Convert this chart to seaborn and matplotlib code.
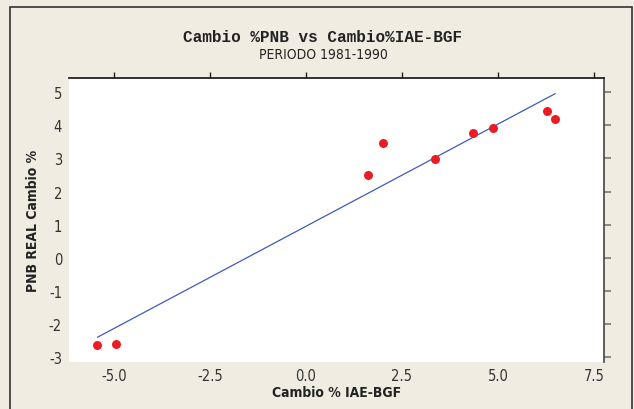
import numpy as np
import pandas as pd
import matplotlib
matplotlib.use("Agg")
import matplotlib.pyplot as plt
import seaborn as sns
from matplotlib.patches import Rectangle

# Data (yearly % changes, 1981-1990)
cambio_iae = [-5.43, -4.95, 1.62, 2.01, 3.36, 4.35, 4.87, 6.27, 6.49]
cambio_pnb = [-2.63, -2.60, 2.50, 3.46, 2.97, 3.78, 3.92, 4.43, 4.20]
x_ticks = [-5.0, -2.5, 0.0, 2.5, 5.0, 7.5]
y_ticks = [-3, -2, -1, 0, 1, 2, 3, 4, 5]

title = "Cambio %PNB vs Cambio%IAE-BGF"
subtitle = "PERIODO 1981-1990"
x_label = "Cambio % IAE-BGF"
y_label = "PNB REAL Cambio %"

df = pd.DataFrame({"iae": cambio_iae, "pnb": cambio_pnb})

sns.set_theme(style="white")
plt.rcParams["font.family"] = ["DejaVu Sans"]

bg = "#F0ECE2"
fig = plt.figure(figsize=(6.34, 4.10), dpi=100, facecolor=bg)
ax = fig.add_axes([69 / 634, 1 - 363 / 410, 535 / 634, 284 / 410])
ax.set_facecolor("white")

sns.regplot(data=df, x="iae", y="pnb", ax=ax, ci=None, truncate=True,
            scatter_kws={"s": 42, "color": "#ED1C24", "alpha": 1, "linewidths": 0, "zorder": 3},
            line_kws={"color": "#3D5BB8", "linewidth": 0.9})

ax.set_xlim(-6.17, 7.76)
ax.set_ylim(-3.15, 5.43)
ax.set_xticks(x_ticks)
ax.set_xticklabels([f"{v:.1f}" for v in x_ticks])
ax.set_yticks(y_ticks)
ax.set_yticklabels([str(v) for v in y_ticks])

for side in ["left", "bottom"]:
    ax.spines[side].set_visible(False)
ax.spines["top"].set_color("#222222")
ax.spines["top"].set_linewidth(1.3)
ax.spines["right"].set_color("#444444")
ax.spines["right"].set_linewidth(1.2)

ax.tick_params(axis="x", bottom=False, top=True, labelbottom=True, labeltop=False,
               direction="out", length=4, width=1, color="#222222",
               labelsize=10.5, labelcolor="#333333", pad=0)
ax.tick_params(axis="y", left=False, right=True, labelleft=True, labelright=False,
               direction="out", length=5, width=1.2, color="#777777",
               labelsize=10.5, labelcolor="#333333", pad=0)
for lab in ax.get_xticklabels() + ax.get_yticklabels():
    lab.set_fontstretch("condensed")

ax.set_xlabel(x_label, fontsize=10, fontweight="bold", color="#222222",
              fontstretch="condensed", labelpad=2)
ax.set_ylabel(y_label, fontsize=10, fontweight="bold", color="#222222",
              fontstretch="condensed", labelpad=6)

fig.text(0.5 * (181 + 464) / 634, 1 - 38 / 410, title, ha="center", va="center",
         fontsize=11.5, fontweight="bold", family=["Liberation Mono", "DejaVu Sans Mono"],
         color="#222222")
fig.text(0.5 * (260 + 387) / 634, 1 - 55 / 410, subtitle, ha="center", va="center",
         fontsize=10, fontstretch="condensed", color="#222222")

# outer frame of the graph window
fig.patches.append(Rectangle((10 / 634, -0.05), 622 / 634, 1.05 - 8 / 410,
                             transform=fig.transFigure, fill=False,
                             edgecolor="#333333", linewidth=1.2))

fig.savefig("out.png", dpi=100, facecolor=bg)
